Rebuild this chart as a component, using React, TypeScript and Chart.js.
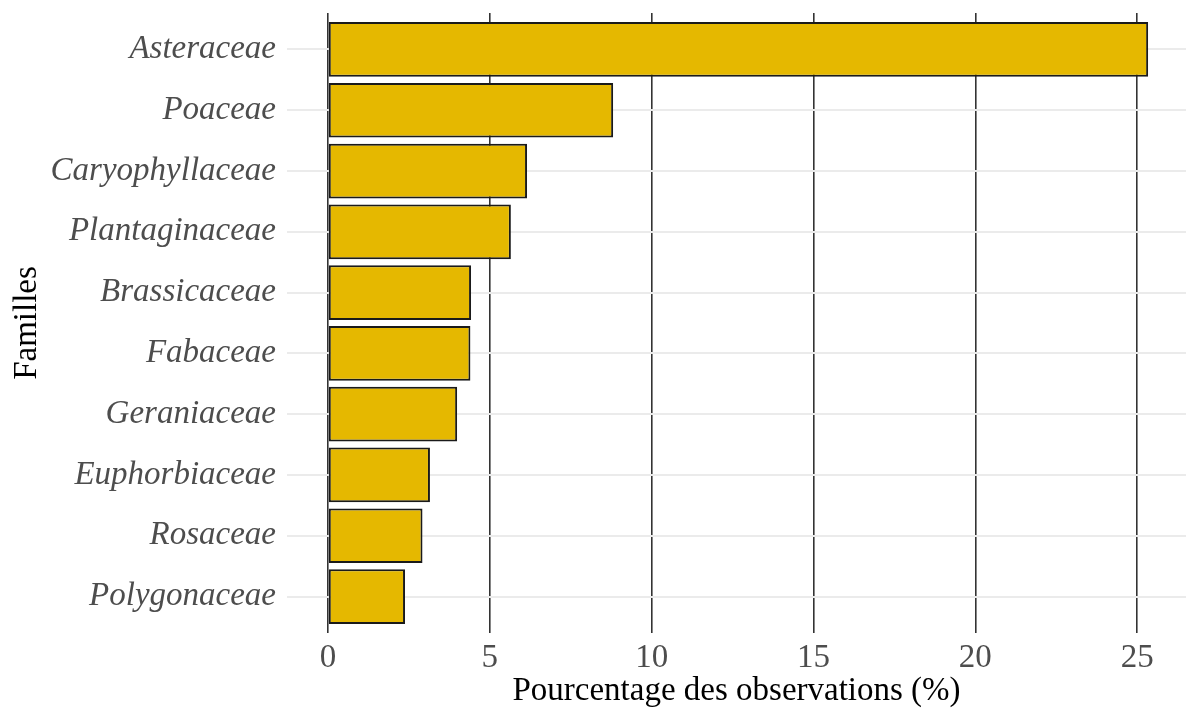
import React, { useEffect, useRef } from "react";
import { Chart, registerables } from "chart.js";

Chart.register(...registerables);

const categories = [
  "Asteraceae",
  "Poaceae",
  "Caryophyllaceae",
  "Plantaginaceae",
  "Brassicaceae",
  "Fabaceae",
  "Geraniaceae",
  "Euphorbiaceae",
  "Rosaceae",
  "Polygonaceae",
];

const percentages = [25.34, 8.81, 6.15, 5.65, 4.42, 4.4, 3.99, 3.15, 2.92, 2.38];

const xTicks = [0, 5, 10, 15, 20, 25];

const xTitle = "Pourcentage des observations (%)";
const yTitle = "Familles";

export default function App() {
  const ref = useRef<HTMLCanvasElement | null>(null);

  useEffect(() => {
    document.body.style.margin = "0";
    document.body.style.overflow = "hidden";
    const canvas = ref.current;
    if (!canvas) return;
    const serif = "'Liberation Serif', 'DejaVu Serif', serif";
    const chart = new Chart(canvas, {
      type: "bar",
      data: {
        datasets: [
          {
            data: categories.map((c, i) => ({ x: percentages[i], y: i })),
            backgroundColor: "#E5B800",
            borderColor: "#1A1A1A",
            borderWidth: 2,
            borderSkipped: false,
            barPercentage: 0.9,
            categoryPercentage: 1,
          },
        ],
      },
      options: {
        indexAxis: "y",
        animation: false,
        responsive: false,
        layout: { padding: { top: 13, right: 0, left: 0, bottom: 0 } },
        plugins: {
          legend: { display: false },
          tooltip: { enabled: false },
        },
        scales: {
          x: {
            type: "linear",
            min: -1.267,
            max: 26.51,
            afterBuildTicks: (scale: any) => {
              scale.ticks = xTicks.map((v) => ({ value: v }));
            },
            afterFit: (scale: any) => {
              scale.height = 78;
              scale.paddingLeft = 0;
              scale.paddingRight = 0;
            },
            grid: {
              color: "#333333",
              lineWidth: 1.6,
              drawTicks: false,
            },
            border: { display: false },
            ticks: {
              color: "#4D4D4D",
              padding: 6,
              font: { family: serif, size: 33 },
              maxRotation: 0,
            },
            title: {
              display: true,
              text: xTitle,
              color: "#000000",
              font: { family: serif, size: 33 },
              padding: { top: 0, bottom: 0 },
            },
          },
          y: {
            type: "linear",
            reverse: true,
            offset: false,
            min: -0.6,
            max: 9.6,
            afterBuildTicks: (scale: any) => {
              scale.ticks = categories.map((_, i) => ({ value: i }));
            },
            afterFit: (scale: any) => {
              scale.width = 287;
              scale.paddingTop = 0;
              scale.paddingBottom = 0;
            },
            grid: {
              color: "#EBEBEB",
              lineWidth: 2,
              drawTicks: false,
              offset: false,
            },
            border: { display: false },
            ticks: {
              color: "#4D4D4D",
              padding: 11,
              font: { family: serif, size: 33, style: "italic" },
              callback: (v: any) => categories[v as number] ?? "",
            },
            title: {
              display: true,
              text: yTitle,
              color: "#000000",
              font: { family: serif, size: 33 },
              padding: { top: 8, bottom: 0 },
            },
          },
        },
      },
    });
    return () => chart.destroy();
  }, []);

  return <canvas ref={ref} width={1186} height={711} style={{ display: "block" }} />;
}
